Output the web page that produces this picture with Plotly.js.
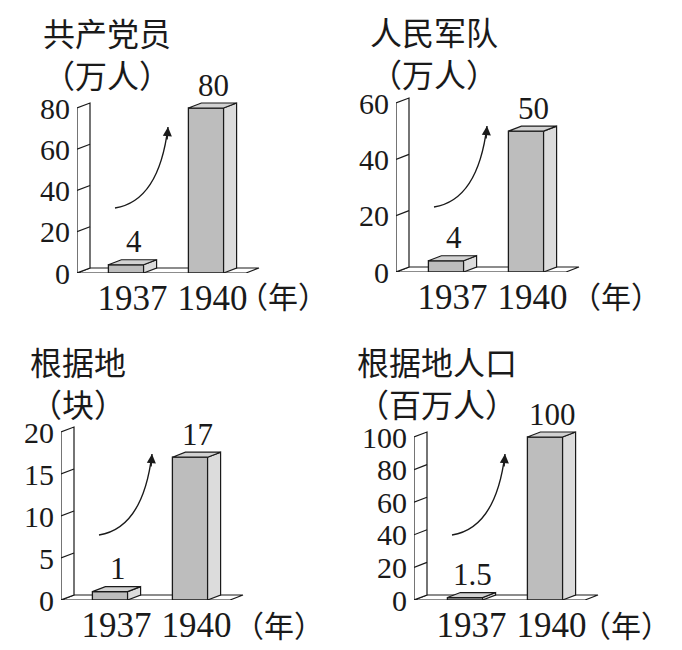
<!DOCTYPE html>
<html><head><meta charset="utf-8">
<script src="https://cdn.plot.ly/plotly-3.0.1.min.js"></script>
<style>html,body{margin:0;padding:0;background:#fff}</style>
</head><body><div id="chart" style="width:682px;height:650px"></div>
<script>
// ---- data ----
const years = ['1937', '1940'];
const titles = ['共产党员', '人民军队', '根据地', '根据地人口'];
const units = ['（万人）', '（万人）', '（块）', '（百万人）'];
const partyMembers = [4, 80];
const armyTroops = [4, 50];
const baseAreas = [1, 17];
const basePopulation = [1.5, 100];
const valueText1 = ['4', '80'];
const valueText2 = ['4', '50'];
const valueText3 = ['1', '17'];
const valueText4 = ['1.5', '100'];
const ticks1 = [0, 20, 40, 60, 80];
const ticks2 = [0, 20, 40, 60];
const ticks3 = [0, 5, 10, 15, 20];
const ticks4 = [0, 20, 40, 60, 80, 100];
const yearUnit = '（年）';

const series = [partyMembers, armyTroops, baseAreas, basePopulation];
const valueTexts = [valueText1, valueText2, valueText3, valueText4];
const tickSets = [ticks1, ticks2, ticks3, ticks4];

// ---- geometry (pixels) ----
const W = 682, H = 650;
const DX = 13, DY = 5;       // depth of the 3-D look
const STEP = 80;             // px between categories
const BAR_W = 0.44;          // bar width in category units
const FLOOR_END = 1.5;       // floor right end in category units
const geom = [
  {wallX: 77,  x0: 126, y0: 273, topPx: 108, right: 320, top: 55,  titleX: 107, titleY: 53,  yearX: 283, yearY: 295},
  {wallX: 396, x0: 446, y0: 272, topPx: 103, right: 680, top: 55,  titleX: 434, titleY: 52,  yearX: 616, yearY: 295},
  {wallX: 61,  x0: 110, y0: 600, topPx: 432, right: 330, top: 385, titleX: 78,  titleY: 382, yearX: 279, yearY: 624},
  {wallX: 414, x0: 465, y0: 600, topPx: 437, right: 680, top: 385, titleX: 437, titleY: 382, yearX: 626, yearY: 624}
];

const NUM_FONT = 'Liberation Serif, "Noto Sans CJK SC", serif';
const CJK_FONT = '"Noto Sans CJK SC", "Liberation Serif", serif';
const INK = '#1a1a1a';

const traces = [];
const shapes = [];
const annotations = [];
const layout = {
  width: W, height: H, autosize: false,
  margin: {l: 0, r: 0, t: 0, b: 0},
  paper_bgcolor: '#fff', plot_bgcolor: 'rgba(0,0,0,0)',
  showlegend: false, bargap: 0,
  font: {family: NUM_FONT, color: INK}
};

const px = v => v / W;
const py = v => 1 - v / H;

geom.forEach((g, i) => {
  const n = i === 0 ? '' : String(i + 1);
  const xa = 'x' + n, ya = 'y' + n;
  const vals = series[i];
  const ticks = tickSets[i];
  const k = (g.y0 - g.topPx) / ticks[ticks.length - 1];
  const dxU = DX / STEP, dyU = DY / k;
  const xMin = (g.wallX - g.x0) / STEP;
  const xMax = (g.right - g.x0) / STEP;
  const yMax = (g.y0 - g.top) / k;
  const xs = vals.map((_, j) => j);

  layout['xaxis' + n] = {
    domain: [px(g.wallX), px(g.right)], range: [xMin, xMax], anchor: ya,
    showgrid: false, zeroline: false, showline: false, ticks: '',
    tickmode: 'array', tickvals: xs.map(x => x + dxU / 2), ticktext: years,
    tickfont: {size: 35, family: NUM_FONT, color: INK}, ticklabelstandoff: 1,
    fixedrange: true
  };
  layout['yaxis' + n] = {
    domain: [py(g.y0), py(g.top)], range: [0, yMax], anchor: xa,
    showgrid: false, zeroline: false, showline: false, ticks: '',
    tickmode: 'array', tickvals: ticks, ticktext: ticks.map(String),
    tickfont: {size: 30, family: NUM_FONT, color: INK}, ticklabelstandoff: 6,
    fixedrange: true
  };

  // floor and back wall
  const top = ticks[ticks.length - 1];
  shapes.push({type: 'path', xref: xa, yref: ya, layer: 'below',
    path: `M ${xMin} 0 L ${FLOOR_END} 0 L ${FLOOR_END + dxU} ${dyU} L ${xMin + dxU} ${dyU} Z`,
    fillcolor: '#fff', line: {color: INK, width: 1.2}});
  shapes.push({type: 'path', xref: xa, yref: ya, layer: 'below',
    path: `M ${xMin} 0 L ${xMin} ${top} L ${xMin + dxU} ${top + dyU} L ${xMin + dxU} ${dyU} Z`,
    fillcolor: '#fff', line: {color: INK, width: 1.2}});
  ticks.slice(1, -1).forEach(t => {
    shapes.push({type: 'line', xref: xa, yref: ya, layer: 'below',
      x0: xMin, y0: t, x1: xMin + dxU, y1: t + dyU, line: {color: INK, width: 1.2}});
  });

  // front faces
  traces.push({type: 'bar', x: xs, y: vals, width: BAR_W, xaxis: xa, yaxis: ya,
    hoverinfo: 'skip',
    marker: {color: '#bdbdbd', line: {color: INK, width: 1.3}}});

  // top faces & side faces computed from the values
  const topX = [], topY = [], sideX = [], sideY = [];
  xs.forEach((x, j) => {
    const v = vals[j], l = x - BAR_W / 2, r = x + BAR_W / 2;
    topX.push(l, l + dxU, r + dxU, r, l, null);
    topY.push(v, v + dyU, v + dyU, v, v, null);
    sideX.push(r, r, r + dxU, r + dxU, r, null);
    sideY.push(0, v, v + dyU, dyU, 0, null);
  });
  traces.push({type: 'scatter', mode: 'lines', x: sideX, y: sideY, xaxis: xa, yaxis: ya,
    fill: 'toself', fillcolor: '#dcdcdc', line: {color: INK, width: 1.2}, hoverinfo: 'skip'});
  traces.push({type: 'scatter', mode: 'lines', x: topX, y: topY, xaxis: xa, yaxis: ya,
    fill: 'toself', fillcolor: '#d2d2d2', line: {color: INK, width: 1.2}, hoverinfo: 'skip'});

  // value labels
  xs.forEach((x, j) => {
    annotations.push({xref: xa, yref: ya, x: x + dxU * 0.6, y: vals[j], yshift: DY + 18,
      text: valueTexts[i][j], showarrow: false, xanchor: 'center', yanchor: 'middle',
      font: {size: 31, family: NUM_FONT, color: INK}});
  });

  // title with unit on a second line
  annotations.push({xref: 'paper', yref: 'paper', x: px(g.titleX), y: py(g.titleY),
    text: titles[i] + '<br>' + units[i], showarrow: false, align: 'center',
    xanchor: 'center', yanchor: 'middle',
    font: {size: 32, family: CJK_FONT, color: INK}});
  annotations.push({xref: 'paper', yref: 'paper', x: px(g.yearX), y: py(g.yearY),
    text: yearUnit, showarrow: false, xanchor: 'center', yanchor: 'middle',
    font: {size: 30, family: CJK_FONT, color: INK}});

  // curved growth arrow
  const sx = g.wallX + 38, sy = g.y0 - 65;
  const cx = g.wallX + 82, cy = g.y0 - 72;
  const ex = g.wallX + 91, ey = g.y0 - 146;
  shapes.push({type: 'path', xref: 'paper', yref: 'paper',
    path: `M ${px(sx)} ${py(sy)} Q ${px(cx)} ${py(cy)} ${px(ex)} ${py(ey)}`,
    line: {color: INK, width: 1.4}});
  annotations.push({xref: 'paper', yref: 'paper', x: px(ex), y: py(ey), ax: -1, ay: 14,
    text: '', showarrow: true, arrowhead: 2, arrowsize: 1.3, arrowwidth: 1.4, arrowcolor: INK});
});

layout.shapes = shapes;
layout.annotations = annotations;
Plotly.newPlot('chart', traces, layout, {staticPlot: true, displayModeBar: false});
</script>
</body></html>
